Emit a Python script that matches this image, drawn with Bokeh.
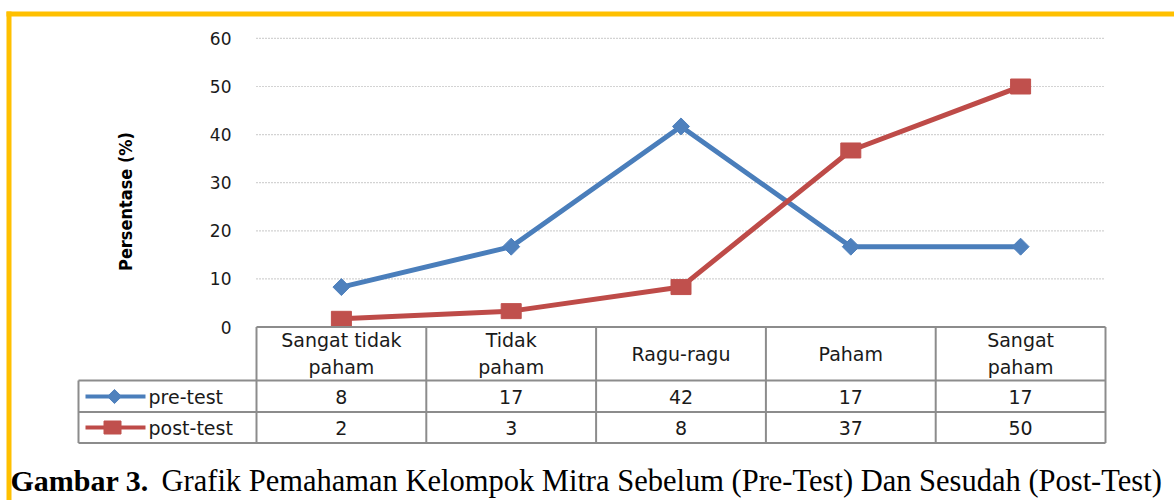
import math
from bokeh.plotting import figure
from bokeh.models import Range1d, LinearAxis, FixedTicker
from bokeh.core.properties import value
from bokeh.embed import file_html
from bokeh.resources import INLINE

# ---------------- data ----------------
categories = ["Sangat tidak\npaham", "Tidak\npaham", "Ragu-ragu", "Paham", "Sangat\npaham"]
pre_test = [8.3, 16.7, 41.7, 16.7, 16.7]
post_test = [1.7, 3.3, 8.3, 36.7, 50.0]
series_names = ["pre-test", "post-test"]
y_ticks = [0, 10, 20, 30, 40, 50, 60]
y_title = "Persentase (%)"
caption_bold = "Gambar 3."
caption_rest = "Grafik Pemahaman Kelompok Mitra Sebelum (Pre-Test) Dan Sesudah (Post-Test)"

# ---------------- layout helpers (canvas pixels -> data) ----------------
W, H = 1174, 500
PX0, PXU = 256.0, 169.8   # x of left edge of first category, px per category
PY0, PYU = 326.5, 4.81    # y of value 0, px per value unit


def dx(px):
    return 0.5 + (px - PX0) / PXU


def dy(py):
    return (PY0 - py) / PYU


BLUE = "#4A7EBB"
BLUE_M = "#4F81BD"
RED = "#BE4B48"
RED_M = "#C0504D"
GOLD = "#FFC000"
TABLE = "#8C8C8C"
TXT = "#1A1A1A"
SANS = value("DejaVu Sans")

xs = list(range(1, len(categories) + 1))
x_right = xs[-1] + 0.5

p = figure(width=W, height=H,
           x_range=Range1d(dx(0), dx(W)), y_range=Range1d(dy(H), dy(0)),
           x_axis_type=None, y_axis_type=None, toolbar_location=None,
           output_backend="svg", min_border=0, title=None)
p.outline_line_color = None
p.background_fill_color = "white"
p.border_fill_color = "white"

# gold frame (top and left)
p.quad(left=dx(6), right=dx(W), top=dy(11), bottom=dy(16), color=GOLD, line_color=None)
p.quad(left=dx(6), right=dx(11), top=dy(11), bottom=dy(H), color=GOLD, line_color=None)

# dotted gridlines
gt = [t for t in y_ticks if t > 0]
p.segment(x0=[0.5] * len(gt), x1=[x_right] * len(gt), y0=gt, y1=gt,
          line_color="#A6A6A6", line_width=1.2, line_dash="1 2")

# y axis at the plot's left edge
ax = LinearAxis(fixed_location=0.5, ticker=FixedTicker(ticks=y_ticks))
ax.axis_line_color = None
ax.major_tick_line_color = None
ax.minor_tick_line_color = None
ax.major_tick_in = 0
ax.major_tick_out = 0
ax.major_label_standoff = 25
ax.major_label_text_font = "DejaVu Sans"
ax.major_label_text_font_size = "17px"
ax.major_label_text_color = TXT
p.add_layout(ax, "left")

# axis title
p.text(x=[dx(125)], y=[dy(201)], text=[y_title], angle=math.pi / 2,
       text_align="center", text_baseline="middle", text_font=value("DejaVu Sans Condensed"),
       text_font_style="bold", text_font_size="18px", text_color="#000000")

# series
p.line(xs, pre_test, line_color=BLUE, line_width=5, line_join="round")
p.scatter(xs, pre_test, marker="square", angle=math.pi / 4, size=12,
          fill_color=BLUE_M, line_color=BLUE_M)
p.line(xs, post_test, line_color=RED, line_width=5, line_join="round")
p.rect(xs, post_test, width=20, height=15, width_units="screen", height_units="screen",
       fill_color=RED_M, line_color=RED_M)

# ---------------- data table ----------------
y_top, y_h, y_r1, y_r2 = dy(PY0), dy(380), dy(411.5), dy(442.5)
x_leg = dx(78)
hx0 = [0.5, x_leg, x_leg, x_leg]
hx1 = [x_right] * 4
hy = [y_top, y_h, y_r1, y_r2]
p.segment(x0=hx0, x1=hx1, y0=hy, y1=hy, line_color=TABLE, line_width=2)
vx = [c - 0.5 for c in xs] + [x_right]
p.segment(x0=vx, x1=vx, y0=[y_top] * len(vx), y1=[y_r2] * len(vx), line_color=TABLE, line_width=2)
p.segment(x0=[x_leg], x1=[x_leg], y0=[y_h], y1=[y_r2], line_color=TABLE, line_width=2)

p.text(x=xs, y=[dy(353)] * len(xs), text=categories, text_align="center", text_baseline="middle",
       text_font=SANS, text_font_size="19px", text_line_height=1.25, text_color=TXT)

row_y = [dy(396), dy(427)]
for vals, ry in zip([pre_test, post_test], row_y):
    p.text(x=xs, y=[ry] * len(xs), text=[str(round(v)) for v in vals],
           text_align="center", text_baseline="middle", text_font=SANS,
           text_font_size="19px", text_color=TXT)

# legend keys inside the table
for name, ry, col in zip(series_names, row_y, [BLUE, RED]):
    p.line([dx(85), dx(145)], [ry, ry], line_color=col, line_width=4)
    p.text(x=[dx(148)], y=[ry], text=[name], text_align="left", text_baseline="middle",
           text_font=SANS, text_font_size="19px", text_color=TXT)
p.scatter([dx(114)], [row_y[0]], marker="square", angle=math.pi / 4, size=10,
          fill_color=BLUE_M, line_color=BLUE_M)
p.rect([dx(112)], [row_y[1]], width=17, height=13, width_units="screen", height_units="screen",
       fill_color=RED_M, line_color=RED_M)

# ---------------- caption ----------------
p.text(x=[dx(10)], y=[dy(480)], text=[caption_bold], text_align="left", text_baseline="middle",
       text_font=value("Liberation Serif"), text_font_style="bold", text_font_size="30px",
       text_color="#000000")
p.text(x=[dx(161)], y=[dy(480)], text=[caption_rest], text_align="left", text_baseline="middle",
       text_font=value("Liberation Serif"), text_font_size="30.5px", text_color="#000000")

open("out.html", "w").write(file_html(p, INLINE))
